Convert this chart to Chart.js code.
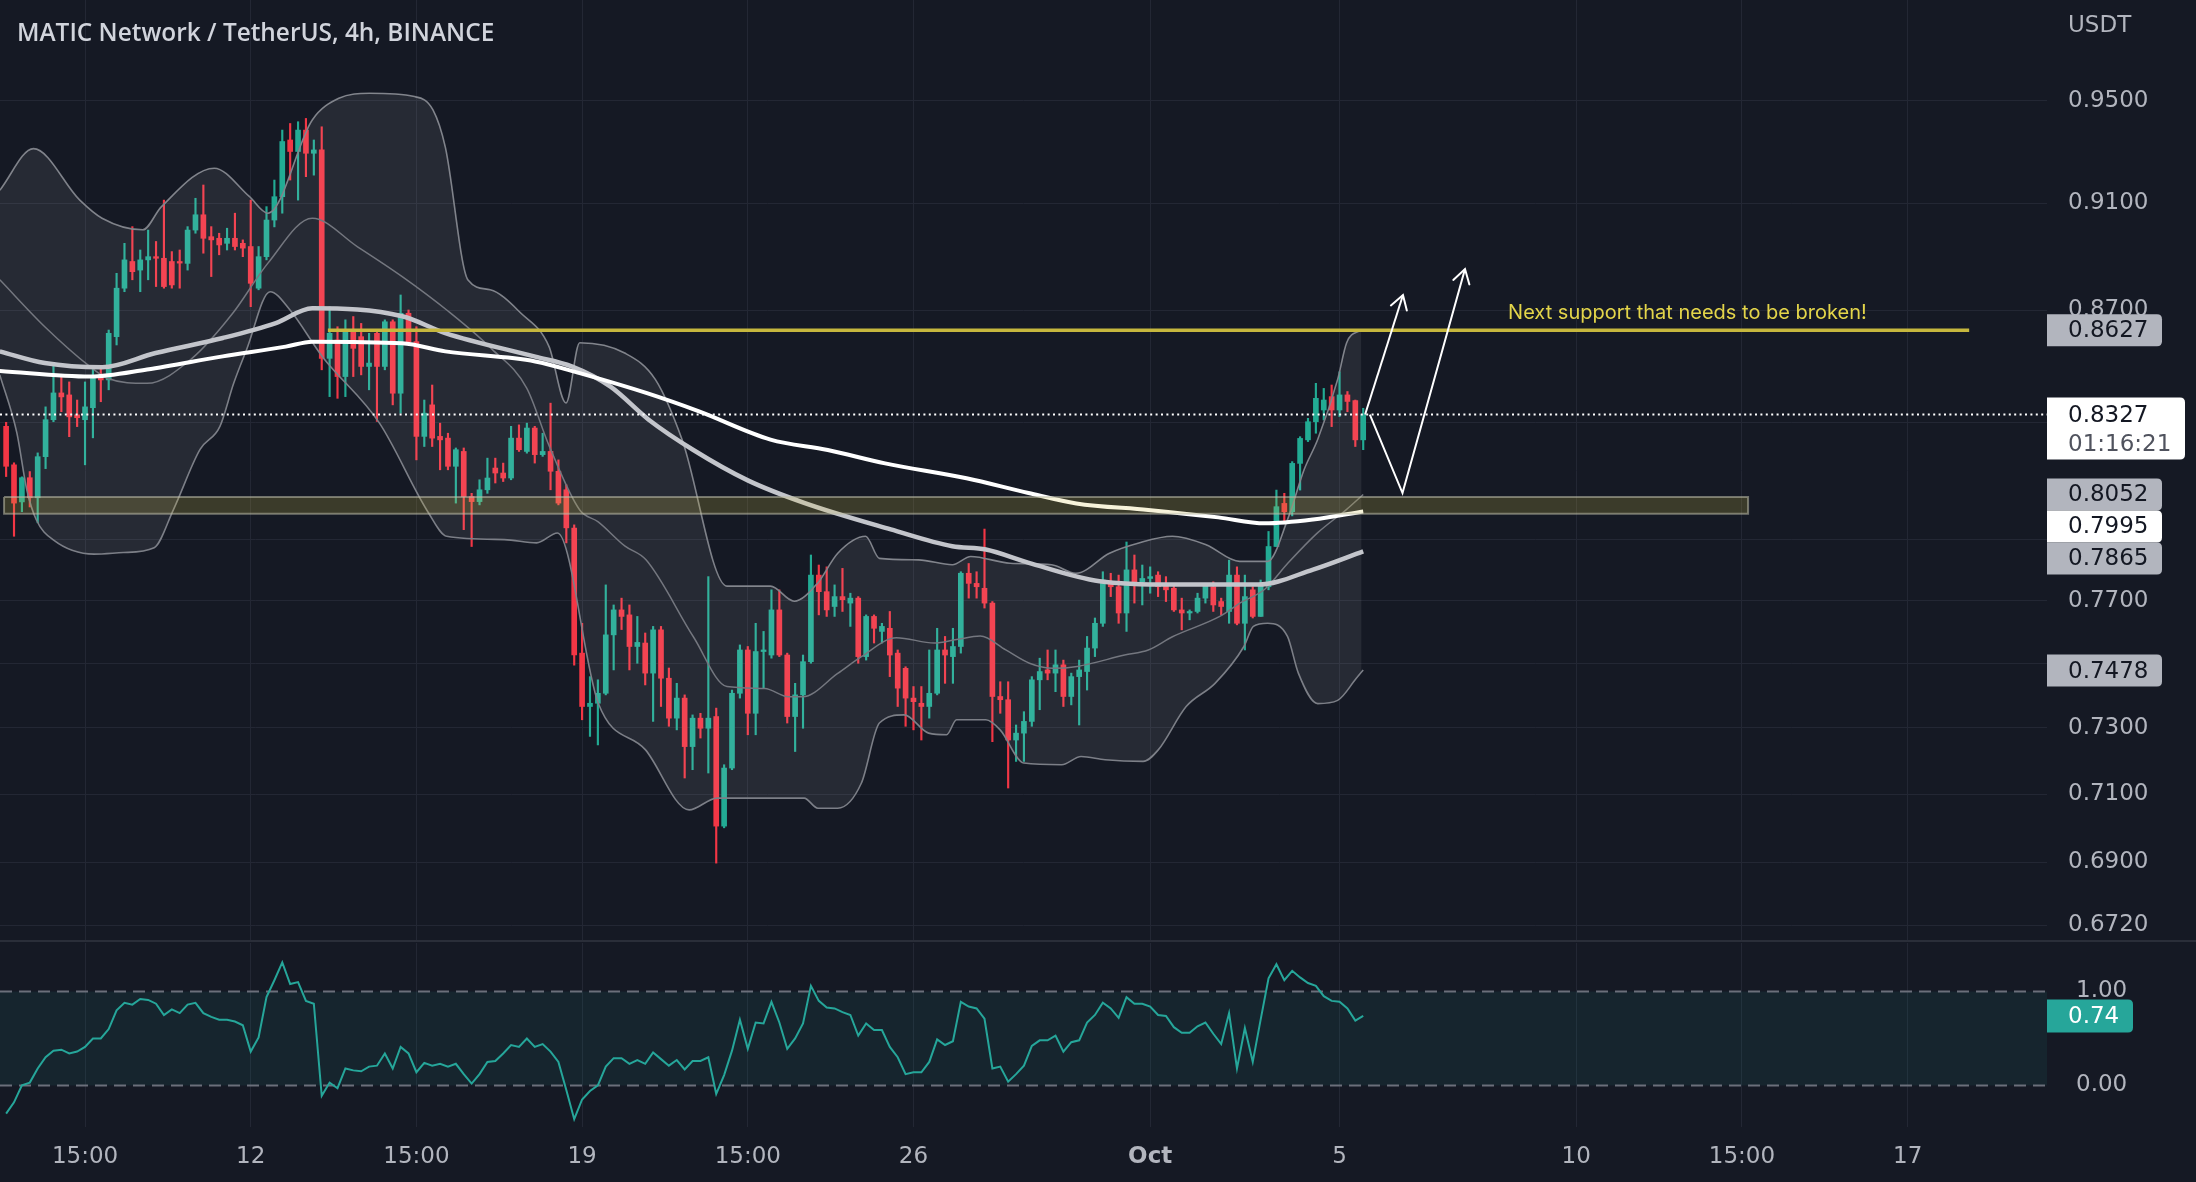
<!DOCTYPE html>
<html><head><meta charset="utf-8">
<script src="https://cdn.jsdelivr.net/npm/chart.js@4/dist/chart.umd.min.js"></script>
<style>
html,body{margin:0;padding:0;background:#151924;width:2196px;height:1182px;overflow:hidden}
#c1{position:absolute;left:0;top:0}
#c2{position:absolute;left:0;top:941px}
#sep{position:absolute;left:0;top:940px;width:2196px;height:2px;background:#2a2e39}
#title{position:absolute;left:17px;top:15px;font:600 24.4px 'Open Sans',sans-serif;color:#d1d4dc;white-space:nowrap;z-index:5}
</style></head><body>
<canvas id="c1" width="2196" height="941"></canvas>
<div id="sep"></div>
<canvas id="c2" width="2196" height="241"></canvas>
<div id="title">MATIC Network / TetherUS, 4h, BINANCE</div>
<script>
// ---------- DATA ----------
const firstBarDay = 6 + 5/6;   // first visible 4h bar (day number, Sept = 1..30, Oct 1 = 31)
const barsPerDay = 6;
const opens = [.8286,.8153,.8027,.8109,.8041,.8181,.8309,.8403,.8396,.8326,
.8309,.8351,.8456,.8449,.8604,.8781,.8880,.8848,.8886,.8898,
.8892,.8880,.8880,.8873,.8998,.9056,.8973,.8967,.8948,.8967,
.8948,.8936,.8781,.8898,.9036,.9125,.9345,.9300,.9384,.9293,
.9306,.8526,.8592,.8461,.8622,.8604,.8497,.8616,.8497,.8658,
.8402,.8689,.8586,.8251,.8361,.8251,.8245,.8148,.8199,.8045,
.8028,.8068,.8142,.8125,.8108,.8245,.8199,.8280,.8188,.8199,
.8131,.8068,.7939,.7533,.7366,.7376,.7407,.7591,.7671,.7655,
.7554,.7565,.7470,.7607,.7454,.7330,.7392,.7243,.7330,.7299,
.7335,.7005,.7178,.7407,.7543,.7345,.7538,.7527,.7671,.7527,
.7335,.7402,.7506,.7784,.7730,.7682,.7714,.7693,.7709,.7522,
.7650,.7602,.7612,.7533,.7485,.7392,.7376,.7366,.7407,.7543,
.7522,.7554,.7790,.7757,.7741,.7693,.7397,.7387,.7263,.7284,
.7320,.7449,.7480,.7470,.7496,.7397,.7459,.7475,.7549,.7628,
.7762,.7746,.7661,.7801,.7762,.7773,.7784,.7752,.7741,.7671,
.7661,.7666,.7709,.7746,.7698,.7666,.7784,.7628,.7736,.7650,
.7746,.7878,.8022,.7994,.8158,.8239,.8302,.8343,.8390,.8343,
.8396,.8376,.8239];
const highs = [.8300,.8160,.8112,.8130,.8194,.8354,.8510,.8467,.8442,.8378,
.8442,.8495,.8491,.8628,.8836,.8948,.9011,.8923,.8998,.8955,
.9112,.8917,.8923,.9011,.9119,.9170,.9011,.8986,.9005,.9062,
.8961,.9112,.8936,.9087,.9189,.9384,.9410,.9417,.9430,.9345,
.9397,.8713,.8640,.8665,.8677,.8652,.8616,.8628,.8665,.8665,
.8756,.8701,.8640,.8378,.8431,.8297,.8262,.8211,.8211,.8056,
.8102,.8176,.8176,.8159,.8286,.8291,.8297,.8286,.8262,.8367,
.8170,.8085,.7950,.7628,.7459,.7449,.7752,.7687,.7709,.7687,
.7650,.7597,.7618,.7618,.7486,.7438,.7402,.7340,.7345,.7779,
.7361,.7188,.7417,.7559,.7554,.7628,.7602,.7736,.7736,.7533,
.7438,.7527,.7850,.7817,.7811,.7752,.7806,.7725,.7714,.7655,
.7655,.7628,.7666,.7543,.7490,.7428,.7428,.7543,.7612,.7586,
.7612,.7795,.7822,.7795,.7936,.7698,.7443,.7443,.7309,.7350,
.7459,.7517,.7543,.7543,.7511,.7470,.7511,.7586,.7645,.7795,
.7790,.7784,.7893,.7850,.7817,.7811,.7795,.7779,.7752,.7709,
.7671,.7725,.7757,.7762,.7709,.7833,.7811,.7784,.7746,.7768,
.7928,.8067,.8056,.8164,.8250,.8314,.8437,.8419,.8431,.8478,
.8408,.8378,.8349];
const lows = [.8113,.7912,.7994,.8010,.7957,.8140,.8302,.8337,.8250,.8285,
.8153,.8246,.8372,.8414,.8574,.8768,.8812,.8768,.8812,.8787,
.8781,.8781,.8781,.8848,.8986,.8911,.8824,.8905,.8923,.8923,
.8898,.8713,.8775,.8886,.9010,.9062,.9189,.9112,.9202,.9208,
.8485,.8390,.8384,.8390,.8461,.8467,.8414,.8303,.8485,.8361,
.8332,.8580,.8170,.8216,.8216,.8136,.8136,.8023,.7934,.7878,
.8017,.8056,.8091,.8096,.8102,.8199,.8193,.8159,.8182,.8068,
.8017,.7890,.7495,.7325,.7274,.7248,.7402,.7480,.7608,.7480,
.7501,.7433,.7320,.7366,.7305,.7294,.7148,.7173,.7269,.7163,
.6897,.7000,.7173,.7392,.7279,.7279,.7423,.7517,.7522,.7315,
.7228,.7299,.7501,.7655,.7650,.7650,.7666,.7618,.7501,.7511,
.7565,.7565,.7459,.7366,.7305,.7294,.7263,.7330,.7402,.7438,
.7438,.7533,.7709,.7709,.7677,.7258,.7345,.7118,.7198,.7198,
.7305,.7356,.7449,.7412,.7366,.7371,.7309,.7417,.7522,.7618,
.7714,.7628,.7602,.7693,.7687,.7725,.7714,.7698,.7666,.7607,
.7639,.7661,.7693,.7666,.7655,.7628,.7623,.7543,.7645,.7650,
.7736,.7878,.7955,.7980,.8067,.8233,.8262,.8308,.8285,.8320,
.8337,.8216,.8205];
const closes = [.8148,.8023,.8109,.8041,.8181,.8309,.8403,.8389,.8319,.8316,
.8354,.8456,.8449,.8616,.8781,.8886,.8842,.8886,.8898,.8892,
.8787,.8793,.8874,.8998,.9056,.8967,.8961,.8942,.8967,.8936,
.8930,.8799,.8898,.9036,.9125,.9339,.9300,.9384,.9293,.9306,
.8526,.8616,.8461,.8628,.8562,.8497,.8509,.8497,.8658,.8402,
.8689,.8586,.8251,.8332,.8245,.8239,.8148,.8205,.8045,.8028,
.8068,.8108,.8125,.8108,.8245,.8205,.8280,.8188,.8199,.8131,
.8023,.7940,.7527,.7366,.7376,.7407,.7591,.7671,.7650,.7554,
.7567,.7470,.7607,.7454,.7330,.7392,.7243,.7330,.7299,.7330,
.7005,.7178,.7407,.7543,.7345,.7538,.7543,.7671,.7527,.7335,
.7402,.7506,.7784,.7730,.7671,.7714,.7704,.7709,.7522,.7650,
.7612,.7618,.7527,.7423,.7392,.7381,.7366,.7407,.7543,.7527,
.7554,.7790,.7757,.7746,.7693,.7397,.7387,.7263,.7284,.7320,
.7449,.7475,.7470,.7496,.7397,.7459,.7480,.7549,.7628,.7768,
.7746,.7661,.7801,.7762,.7773,.7779,.7746,.7736,.7671,.7661,
.7666,.7709,.7752,.7687,.7682,.7784,.7628,.7714,.7650,.7752,
.7878,.8011,.7994,.8158,.8244,.8302,.8384,.8378,.8343,.8396,
.8373,.8239,.8327];

// Bollinger bands
const bbUpperDays = [6.70,7.41,8.39,8.86,9.72,10.11,11.23,11.97,12.36,13.30,13.86,14.51,15.46,15.85,16.11,16.59,17.06,17.71,18.30,18.66,18.95,19.90,20.55,21.11,22.06,22.98,23.48,23.98,24.40,24.99,25.28,26.11,26.82,27.21,28.04,28.92,29.43,30.14,30.76,31.47,32.18,32.89,33.48,33.92,34.25,34.54,34.96,35.15,35.46];
const bbUpperVals = [.9150,.9311,.9112,.9043,.8999,.9086,.9235,.9126,.9062,.9424,.9510,.9530,.9517,.9464,.9318,.8811,.8775,.8689,.8569,.8368,.8582,.8545,.8450,.8241,.7748,.7748,.7699,.7759,.7856,.7912,.7839,.7834,.7818,.7845,.7823,.7818,.7790,.7856,.7890,.7912,.7884,.7829,.7829,.7976,.8136,.8241,.8451,.8582,.8629];
const bbBasisDays = [6.70,7.65,8.60,8.97,9.81,10.76,11.62,12.36,13.30,14.25,15.20,16.14,17.09,17.83,18.30,18.95,19.34,19.90,20.35,21.35,22.06,22.86,23.36,23.66,24.40,24.90,25.64,26.44,26.91,27.41,27.95,28.45,28.95,29.46,30.46,30.96,31.47,32.47,32.92,33.42,33.92,34.54,35.15,35.50];
const bbBasisVals = [.8812,.8640,.8497,.8455,.8437,.8526,.8689,.8873,.9043,.8936,.8824,.8701,.8560,.8420,.8220,.8000,.7960,.7880,.7834,.7585,.7428,.7422,.7396,.7396,.7469,.7522,.7582,.7565,.7576,.7587,.7543,.7501,.7485,.7491,.7527,.7543,.7585,.7650,.7695,.7738,.7825,.7924,.8002,.8052];
const bbLowerDays = [6.70,7.06,7.27,7.47,7.83,8.69,9.31,9.96,10.37,10.93,11.35,11.64,11.91,12.41,12.83,13.51,14.72,15.76,16.14,17.36,18.04,18.48,19.34,20.34,21.26,21.85,23.69,23.98,24.40,24.90,25.28,25.80,26.32,26.70,26.91,27.53,27.83,28.33,29.13,29.54,30.05,30.85,31.17,31.76,32.37,32.98,33.18,33.48,33.90,34.13,34.54,34.96,35.35,35.50];
const bbLowerVals = [.8467,.8263,.8068,.7967,.7900,.7853,.7858,.7874,.8002,.8206,.8286,.8437,.8556,.8768,.8701,.8533,.8297,.7989,.7912,.7901,.7890,.7923,.7377,.7233,.7053,.7088,.7088,.7058,.7058,.7133,.7315,.7340,.7284,.7279,.7325,.7325,.7294,.7193,.7188,.7213,.7203,.7198,.7233,.7366,.7438,.7554,.7618,.7628,.7586,.7470,.7375,.7385,.7453,.7480];

// Moving averages
const maWhiteDays = [6.70,8.60,9.81,11.41,12.74,13.30,15.20,16.11,18.01,18.95,20.37,21.47,22.98,24.19,25.40,27.12,28.43,29.44,30.96,32.44,33.42,34.44,35.50];
const maWhiteVals = [.8481,.8461,.8486,.8533,.8568,.8586,.8580,.8551,.8515,.8473,.8402,.8338,.8240,.8204,.8158,.8107,.8057,.8022,.8000,.7975,.7955,.7968,.7995];
const maGrayDays = [6.70,7.65,8.86,9.99,11.41,12.53,13.30,15.20,16.11,18.01,18.78,19.60,20.40,21.35,22.50,23.69,25.52,26.82,27.53,28.42,29.93,31.47,33.28,34.44,35.50];
const maGrayVals = [.8551,.8509,.8494,.8545,.8599,.8653,.8707,.8678,.8617,.8532,.8497,.8425,.8310,.8204,.8100,.8024,.7935,.7879,.7868,.7825,.7764,.7753,.7753,.7802,.7862];

// Oscillator (one value per bar)
const oscValues = [-0.30,-0.18,0.00,0.03,0.18,0.30,0.37,0.38,0.34,0.36,
0.41,0.50,0.50,0.60,0.80,0.88,0.86,0.92,0.91,0.87,
0.75,0.81,0.77,0.86,0.88,0.77,0.73,0.70,0.70,0.68,
0.64,0.36,0.51,0.94,1.12,1.31,1.08,1.10,0.90,0.87,
-0.11,0.03,-0.03,0.18,0.16,0.15,0.20,0.21,0.34,0.18,
0.41,0.34,0.14,0.24,0.21,0.23,0.20,0.23,0.12,0.02,
0.12,0.25,0.26,0.34,0.43,0.41,0.50,0.41,0.44,0.36,
0.25,-0.05,-0.36,-0.15,-0.06,0.00,0.20,0.29,0.29,0.23,
0.27,0.23,0.35,0.28,0.21,0.27,0.17,0.26,0.26,0.30,
-0.09,0.11,0.37,0.70,0.39,0.67,0.66,0.89,0.67,0.39,
0.50,0.66,1.06,0.90,0.83,0.82,0.78,0.75,0.53,0.66,
0.59,0.59,0.41,0.30,0.12,0.14,0.14,0.25,0.49,0.43,
0.47,0.89,0.84,0.82,0.71,0.18,0.20,0.04,0.12,0.21,
0.42,0.48,0.48,0.53,0.36,0.46,0.48,0.67,0.75,0.88,
0.82,0.72,0.94,0.87,0.87,0.84,0.75,0.74,0.62,0.56,
0.56,0.63,0.67,0.55,0.44,0.77,0.18,0.61,0.25,0.70,
1.14,1.29,1.12,1.22,1.15,1.09,1.06,0.95,0.90,0.89,
0.82,0.69,0.74];
const oscBandLevels = [1, 0];
const oscTicks = [0, 1];
const oscLast = 0.74;

// Annotations
const supportLevel = 0.8627, supportStartDay = 13.63, supportEndDay = 48.30;
const supportText = 'Next support that needs to be broken!', supportTextDay = 38.56;
const zoneTop = 0.8044, zoneBottom = 0.7987, zoneStartDay = 6.79, zoneEndDay = 43.63;
const arrowUpDays = [35.54, 36.34], arrowUpVals = [0.8327, 0.8756];
const arrowZigDays = [35.64, 36.33, 37.65], arrowZigVals = [0.8327, 0.8057, 0.8852];
const lastPrice = 0.8327, countdown = '01:16:21', currency = 'USDT';
const tagValues = [0.8627, 0.8052, 0.7995, 0.7865, 0.7478];
const tagIsWhite = [false, false, true, false, false];

// Axes
const priceTicks = [0.95, 0.91, 0.87, 0.83, 0.79, 0.77, 0.75, 0.73, 0.71, 0.69, 0.672];
const hiddenPriceLabels = [0.83, 0.79, 0.75];
const tickDays = [8.5, 12, 15.5, 19, 22.5, 26, 31, 35, 40, 43.5, 47];
const tickLabels = ['15:00','12','15:00','19','15:00','26','Oct','5','10','15:00','17'];
const xMin = 6.704, xMax = 49.944;
const yMin = 0.6675, yMax = 0.9911;
const oscMin = -0.443, oscMax = 1.5165;

// ---------- STYLE ----------
const UP = '#22ab94', DOWN = '#f23645', GRID = '#232734', TXT = '#b2b5be';
const AXIS_FONT = "'DejaVu Sans', sans-serif";
Chart.defaults.font.family = AXIS_FONT;
Chart.defaults.animation = false;

const barDays = opens.map((_, i) => firstBarDay + i / barsPerDay);
const pts = (xs, ys) => xs.map((x, i) => ({x, y: ys[i]}));
const noPad = s => { s.paddingTop = 0; s.paddingBottom = 0; s.paddingLeft = 0; s.paddingRight = 0; };

function xScale(showLabels) {
  return {
    type: 'linear', min: xMin, max: xMax, offset: false,
    grid: {color: GRID, lineWidth: 1, drawTicks: false, offset: false},
    border: {display: false},
    afterBuildTicks: s => { s.ticks = tickDays.map(v => ({value: v})); },
    ticks: {display: showLabels, autoSkip: false, maxRotation: 0, minRotation: 0, padding: 16, color: TXT,
      font: c => ({family: AXIS_FONT, size: 23, weight: tickLabels[c.index] === 'Oct' ? 'bold' : 'normal'}),
      callback: (v, i) => tickLabels[i]},
    afterFit: s => { s.height = showLabels ? 55 : 0; noPad(s); }
  };
}

function rightTag(ctx, x, yTop, w, h, r, bg) {
  ctx.beginPath();
  ctx.moveTo(x, yTop); ctx.lineTo(x + w - r, yTop);
  ctx.quadraticCurveTo(x + w, yTop, x + w, yTop + r);
  ctx.lineTo(x + w, yTop + h - r);
  ctx.quadraticCurveTo(x + w, yTop + h, x + w - r, yTop + h);
  ctx.lineTo(x, yTop + h); ctx.closePath();
  ctx.fillStyle = bg; ctx.fill();
}

const arrowPlugin = {
  id: 'arrowHeads',
  afterDatasetsDraw(chart) {
    const ctx = chart.ctx;
    chart.data.datasets.forEach((ds, i) => {
      if (!ds.arrowHead) return;
      const p = chart.getDatasetMeta(i).data;
      const a = p[p.length - 2], b = p[p.length - 1];
      const ang = Math.atan2(b.y - a.y, b.x - a.x);
      const L = 16, s = 0.55;
      ctx.save();
      ctx.strokeStyle = ds.borderColor; ctx.lineWidth = 2; ctx.lineCap = 'round';
      ctx.beginPath();
      ctx.moveTo(b.x - L * Math.cos(ang - s), b.y - L * Math.sin(ang - s));
      ctx.lineTo(b.x, b.y);
      ctx.lineTo(b.x - L * Math.cos(ang + s), b.y - L * Math.sin(ang + s));
      ctx.stroke();
      ctx.restore();
    });
  }
};

const labelsPlugin = {
  id: 'priceLabels',
  afterDraw(chart) {
    const {ctx, chartArea, scales: {x, y}} = chart;
    const left = chartArea.right;
    ctx.save();
    // annotation text
    ctx.font = "20px Inter, 'Open Sans', sans-serif";
    ctx.fillStyle = '#e3d54a'; ctx.textAlign = 'left'; ctx.textBaseline = 'bottom';
    ctx.fillText(supportText, x.getPixelForValue(supportTextDay), y.getPixelForValue(supportLevel) - 7);
    // currency
    ctx.font = "23px " + AXIS_FONT; ctx.textBaseline = 'middle'; ctx.fillStyle = TXT;
    ctx.fillText(currency, left + 21, 26);
    // value tags (pushed apart when overlapping)
    const h = 32;
    const items = tagValues.map((v, i) => ({v, py: y.getPixelForValue(v), white: tagIsWhite[i]}))
      .sort((a, b) => a.py - b.py);
    let prev = -1e9;
    items.forEach(it => {
      const c = Math.max(it.py, prev + h); prev = c;
      rightTag(ctx, left, c - h / 2, 115, h, 5, it.white ? '#ffffff' : '#b2b5be');
      ctx.fillStyle = '#131722'; ctx.fillText(it.v.toFixed(4), left + 21, c + 1);
    });
    // last price tag
    const py = y.getPixelForValue(lastPrice);
    rightTag(ctx, left, py - 17, 138, 62, 5, '#ffffff');
    ctx.fillStyle = '#131722'; ctx.fillText(lastPrice.toFixed(4), left + 21, py + 1);
    ctx.fillStyle = '#50535e'; ctx.fillText(countdown, left + 21, py + 30);
    ctx.restore();
  }
};

const oscTagPlugin = {
  id: 'oscTag',
  afterDraw(chart) {
    const {ctx, chartArea, scales: {y}} = chart;
    const py = y.getPixelForValue(oscLast);
    ctx.save();
    rightTag(ctx, chartArea.right, py - 16.5, 86, 33, 5, '#26a69a');
    ctx.font = "23px " + AXIS_FONT; ctx.fillStyle = '#ffffff'; ctx.textBaseline = 'middle'; ctx.textAlign = 'left';
    ctx.fillText(oscLast.toFixed(2), chartArea.right + 21, py + 1);
    ctx.restore();
  }
};

const lineDs = (data, color, width, order, extra) => Object.assign({
  type: 'line', data, borderColor: color, borderWidth: width, pointRadius: 0, order,
  fill: false, cubicInterpolationMode: 'monotone'
}, extra || {});

// ---------- PRICE PANE ----------
new Chart(document.getElementById('c1'), {
  type: 'bar',
  data: {datasets: [
    {type: 'bar', data: barDays.map((d, i) => ({x: d, y: [lows[i], highs[i]]})), grouped: false,
     barThickness: 1.5, minBarLength: 1, order: 100,
     backgroundColor: c => closes[c.dataIndex] >= opens[c.dataIndex] ? UP : DOWN},
    {type: 'bar', data: barDays.map((d, i) => ({x: d, y: [opens[i], closes[i]]})), grouped: false,
     barThickness: 5, minBarLength: 1.5, order: 99,
     backgroundColor: c => closes[c.dataIndex] >= opens[c.dataIndex] ? UP : DOWN},
    lineDs(pts(bbUpperDays, bbUpperVals), '#7c7f87', 1.6, 90),
    lineDs(pts(bbLowerDays, bbLowerVals), '#7c7f87', 1.6, 89,
      {fill: {target: 2, above: 'rgba(255,255,255,0.075)', below: 'rgba(255,255,255,0.075)'}}),
    lineDs(pts(bbBasisDays, bbBasisVals), '#74777f', 1.5, 88),
    lineDs(pts(maGrayDays, maGrayVals), '#c3c5cb', 4.5, 80),
    lineDs(pts(maWhiteDays, maWhiteVals), '#ffffff', 4, 79),
    {type: 'line', order: 70, pointRadius: 0, tension: 0, borderWidth: 2,
     borderColor: 'rgba(190,190,170,0.55)', backgroundColor: 'rgba(215,195,70,0.2)', fill: 'shape',
     data: [{x: zoneStartDay, y: zoneTop}, {x: zoneEndDay, y: zoneTop}, {x: zoneEndDay, y: zoneBottom},
            {x: zoneStartDay, y: zoneBottom}, {x: zoneStartDay, y: zoneTop}]},
    lineDs([{x: supportStartDay, y: supportLevel}, {x: supportEndDay, y: supportLevel}], '#c6b73e', 3.5, 60,
      {cubicInterpolationMode: 'default'}),
    lineDs([{x: xMin, y: lastPrice}, {x: xMax, y: lastPrice}], '#ffffff', 2, 50,
      {borderDash: [2, 3.4], cubicInterpolationMode: 'default'}),
    lineDs(pts(arrowUpDays, arrowUpVals), '#ffffff', 2, 40, {arrowHead: true, tension: 0, cubicInterpolationMode: 'default'}),
    lineDs(pts(arrowZigDays, arrowZigVals), '#ffffff', 2, 39, {arrowHead: true, tension: 0, cubicInterpolationMode: 'default'})
  ]},
  options: {
    responsive: false, maintainAspectRatio: false, devicePixelRatio: 1, animation: false,
    layout: {padding: 0, autoPadding: false},
    plugins: {legend: {display: false}, tooltip: {enabled: false}, title: {display: false}},
    scales: {
      x: xScale(false),
      y: {type: 'logarithmic', position: 'right', min: yMin, max: yMax,
          grid: {color: GRID, lineWidth: 1, drawTicks: false}, border: {display: false},
          afterBuildTicks: s => { s.ticks = priceTicks.map(v => ({value: v})); },
          ticks: {padding: 21, color: TXT, font: {size: 23}, autoSkip: false,
                  callback: v => hiddenPriceLabels.includes(v) ? '' : Number(v).toFixed(4)},
          afterFit: s => { s.width = 149; noPad(s); }}
    }
  },
  plugins: [arrowPlugin, labelsPlugin]
});

// ---------- OSCILLATOR PANE ----------
new Chart(document.getElementById('c2'), {
  type: 'line',
  data: {datasets: [
    lineDs([{x: xMin, y: oscBandLevels[0]}, {x: xMax, y: oscBandLevels[0]}], '#6b6f7a', 2, 3,
      {borderDash: [12, 7], cubicInterpolationMode: 'default'}),
    lineDs([{x: xMin, y: oscBandLevels[1]}, {x: xMax, y: oscBandLevels[1]}], '#6b6f7a', 2, 4,
      {borderDash: [12, 7], cubicInterpolationMode: 'default',
       fill: {target: 0, above: 'rgba(38,166,154,0.09)', below: 'rgba(38,166,154,0.09)'}}),
    lineDs(barDays.map((d, i) => ({x: d, y: oscValues[i]})), '#26a69a', 2, 1,
      {cubicInterpolationMode: 'default', tension: 0})
  ]},
  options: {
    responsive: false, maintainAspectRatio: false, devicePixelRatio: 1, animation: false,
    layout: {padding: {top: 2}, autoPadding: false},
    plugins: {legend: {display: false}, tooltip: {enabled: false}},
    scales: {
      x: xScale(true),
      y: {type: 'linear', position: 'right', min: oscMin, max: oscMax,
          grid: {display: false}, border: {display: false},
          afterBuildTicks: s => { s.ticks = oscTicks.map(v => ({value: v})); },
          ticks: {padding: 21, color: TXT, font: {size: 23}, autoSkip: false,
                  callback: v => Number(v).toFixed(2)},
          afterFit: s => { s.width = 149; noPad(s); }}
    }
  },
  plugins: [oscTagPlugin]
});
</script>
</body></html>
